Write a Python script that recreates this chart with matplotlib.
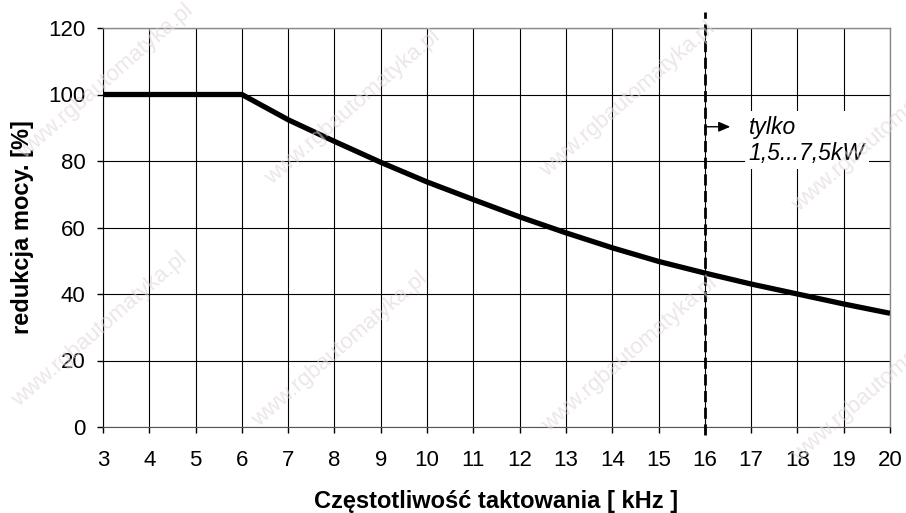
import matplotlib
matplotlib.use("Agg")
import matplotlib.pyplot as plt

plt.rcParams['font.family'] = ['Liberation Sans', 'DejaVu Sans']

# data
freq_khz = [3, 4, 5, 6, 7, 8, 9, 10, 11, 12, 13, 14, 15, 16, 17, 18, 19, 20]
power_pct = [100, 100, 100, 100, 92.4, 85.9, 79.6, 73.7, 68.4, 63.2, 58.4, 53.9,
             49.8, 46.3, 43.0, 40.0, 37.0, 34.2]
x_ticks = list(range(3, 21))
y_ticks = [0, 20, 40, 60, 80, 100, 120]
limit_x = 16
note_text = "tylko\n1,5...7,5kW"
x_label = "Częstotliwość taktowania [ kHz ]"
y_label = "redukcja mocy. [%]"
watermark = "www.rgbautomatyka.pl"

fig = plt.figure(figsize=(9.06, 5.13), dpi=100)
ax = fig.add_axes([103/906, 1-427/513, (890-103)/906, (427-28)/513])

ax.set_xlim(3, 20)
ax.set_ylim(0, 120)
ax.set_xticks(x_ticks)
ax.set_yticks(y_ticks)
ax.grid(True, color='black', linewidth=0.8)
ax.set_axisbelow(True)

ax.plot(freq_khz, power_pct, color='black', linewidth=3.8, solid_capstyle='butt',
        solid_joinstyle='miter', zorder=3)

ax.axvline(limit_x, ymin=-0.02, ymax=1.04, color='black', linewidth=2.0,
           linestyle=(0, (4, 2)), clip_on=False, zorder=4)

ax.annotate('', xy=(limit_x + 0.55, 90.3), xytext=(limit_x, 90.3),
            arrowprops=dict(arrowstyle='-|>,head_length=0.7,head_width=0.3',
                            color='black', linewidth=1.0, shrinkA=0, shrinkB=0),
            zorder=5)
ax.text(limit_x + 0.95, 86.2, note_text, fontsize=16.5, style='italic',
        va='center', ha='left', linespacing=1.2,
        bbox=dict(facecolor='white', edgecolor='none', pad=3), zorder=5)

for s in ['top', 'right']:
    ax.spines[s].set_color('#8a8a8a')
    ax.spines[s].set_linewidth(1.0)
ax.spines['left'].set_color('black')
ax.spines['bottom'].set_color('#555555')

ax.tick_params(axis='both', labelsize=16, length=4.5, width=1.0, direction='out',
               color='black')
ax.tick_params(axis='x', pad=12)
ax.tick_params(axis='y', pad=8)

ax.set_xlabel(x_label, fontsize=17, fontweight='bold', labelpad=14)
ax.set_ylabel(y_label, fontsize=17, fontweight='bold', labelpad=10)

# watermarks
wm_pos = [(106, 82), (353, 108), (628, 100), (880, 135),
          (100, 330), (340, 350), (630, 355), (880, 385),
          (110, 600), (360, 605), (620, 610)]
for (px, py) in wm_pos:
    fig.text(px/906, 1-py/513, watermark, rotation=41, fontsize=16,
             color='#e2d6d6', alpha=0.6, ha='center', va='center', zorder=0)

fig.savefig('out.png', dpi=100)
